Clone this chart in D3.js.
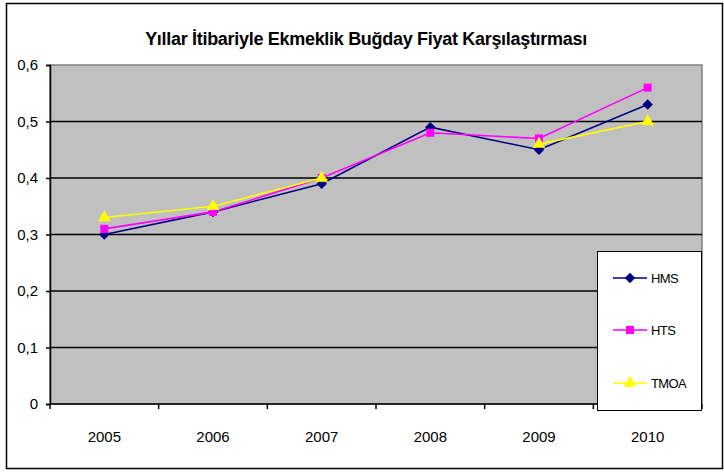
<!DOCTYPE html>
<meta charset="utf-8">
<style>
body { margin: 0; background: #fff; }
text { font-family: "Liberation Sans", Arial, sans-serif; fill: #000; }
.grid line { stroke: #000; stroke-width: 1.7px; }
</style>
<body>
<script src="https://cdnjs.cloudflare.com/ajax/libs/d3/7.8.5/d3.min.js"></script>
<script>
var years = ["2005", "2006", "2007", "2008", "2009", "2010"];
var hms  = [0.30, 0.34, 0.39, 0.49, 0.45, 0.53];
var hts  = [0.31, 0.34, 0.40, 0.48, 0.47, 0.56];
var tmoa = [0.33, 0.35, 0.40, null, 0.46, 0.50];
var yTicks = [0, 0.1, 0.2, 0.3, 0.4, 0.5, 0.6];
var seriesNames = ["HMS", "HTS", "TMOA"];

var width = 724, height = 473;
var plot = {left: 50, top: 65, right: 702, bottom: 404};

var series = [
  {name: seriesNames[0], values: hms,  color: "#000080", sym: d3.symbolDiamond2, size: 70},
  {name: seriesNames[1], values: hts,  color: "#ff00ff", sym: d3.symbolSquare,  size: 64},
  {name: seriesNames[2], values: tmoa, color: "#ffff00", sym: d3.symbolTriangle, size: 70}
];

var svg = d3.select("body").append("svg")
    .attr("width", width)
    .attr("height", height);

// outer frame
svg.append("rect")
    .attr("x", 6.5).attr("y", 3.5)
    .attr("width", 716).attr("height", 465)
    .attr("fill", "#fff").attr("stroke", "#000").attr("stroke-width", 1.5);

svg.append("text")
    .attr("x", 366).attr("y", 45)
    .attr("text-anchor", "middle")
    .style("font-size", "18px").style("font-weight", "bold")
    .style("letter-spacing", "-0.3px")
    .text("Yıllar İtibariyle Ekmeklik Buğday Fiyat Karşılaştırması");

var x = d3.scaleBand().domain(years).range([plot.left, plot.right]);
var y = d3.scaleLinear().domain([0, 0.6]).range([plot.bottom, plot.top]);

// plot area
svg.append("rect")
    .attr("x", plot.left).attr("y", plot.top)
    .attr("width", plot.right - plot.left).attr("height", plot.bottom - plot.top)
    .attr("fill", "#c0c0c0").attr("stroke", "#808080").attr("stroke-width", 1.5);

svg.append("g").attr("class", "grid")
  .selectAll("line")
  .data(yTicks.slice(1, -1))
  .enter().append("line")
    .attr("x1", plot.left).attr("x2", plot.right)
    .attr("y1", function(d) { return y(d); })
    .attr("y2", function(d) { return y(d); });

var yAxis = d3.axisLeft(y).tickValues(yTicks).tickSize(4).tickPadding(8)
    .tickFormat(function(d) { return String(d).replace(".", ","); });
var yg = svg.append("g")
    .attr("transform", "translate(" + plot.left + ",0)")
    .call(yAxis);
yg.select(".domain").attr("stroke", "#000").attr("stroke-width", 1.5);
yg.selectAll(".tick line").attr("stroke", "#000").attr("stroke-width", 1.5);
yg.selectAll("text").style("font-size", "15px").style("font-family", "Liberation Sans, Arial, sans-serif");

// x axis with ticks at band boundaries
var xg = svg.append("g").attr("transform", "translate(0," + plot.bottom + ")");
xg.append("line")
    .attr("x1", plot.left).attr("x2", plot.right)
    .attr("stroke", "#000").attr("stroke-width", 1.5);
xg.selectAll(".xt")
  .data(years.concat(["end"]))
  .enter().append("line")
    .attr("class", "xt")
    .attr("x1", function(d, i) { return plot.left + i * x.bandwidth(); })
    .attr("x2", function(d, i) { return plot.left + i * x.bandwidth(); })
    .attr("y1", 0).attr("y2", 5)
    .attr("stroke", "#000").attr("stroke-width", 1.5);
xg.selectAll(".xl")
  .data(years)
  .enter().append("text")
    .attr("class", "xl")
    .attr("x", function(d) { return x(d) + x.bandwidth() / 2; })
    .attr("y", 38)
    .attr("text-anchor", "middle")
    .style("font-size", "15px")
    .text(function(d) { return d; });

var line = d3.line()
    .defined(function(d) { return d != null; })
    .x(function(d, i) { return x(years[i]) + x.bandwidth() / 2; })
    .y(function(d) { return y(d); });

series.forEach(function(s) {
  var g = svg.append("g");
  g.append("path")
      .datum(s.values)
      .attr("d", line)
      .attr("fill", "none")
      .attr("stroke", s.color)
      .attr("stroke-width", 1.6);
  g.selectAll("path.m")
    .data(s.values.map(function(v, i) { return {v: v, i: i}; }).filter(function(d) { return d.v != null; }))
    .enter().append("path")
      .attr("class", "m")
      .attr("d", d3.symbol().type(s.sym).size(s.size))
      .attr("fill", s.color)
      .attr("transform", function(d) {
        return "translate(" + (x(years[d.i]) + x.bandwidth() / 2) + "," + y(d.v) + ")";
      });
});

// legend
var leg = svg.append("g");
leg.append("rect")
    .attr("x", 597.5).attr("y", 251.5)
    .attr("width", 104).attr("height", 159)
    .attr("fill", "#fff").attr("stroke", "#000").attr("stroke-width", 1);
var legY = [278, 330, 383];
series.forEach(function(s, i) {
  var gi = leg.append("g").attr("transform", "translate(0," + legY[i] + ")");
  gi.append("line")
      .attr("x1", 613).attr("x2", 647)
      .attr("stroke", s.color).attr("stroke-width", 1.6);
  gi.append("path")
      .attr("d", d3.symbol().type(s.sym).size(s.size))
      .attr("transform", "translate(630,0)")
      .attr("fill", s.color);
  gi.append("text")
      .attr("x", 651).attr("y", 5)
      .style("font-size", "13px")
      .style("letter-spacing", "-0.6px")
      .text(s.name);
});
</script>
</body>
